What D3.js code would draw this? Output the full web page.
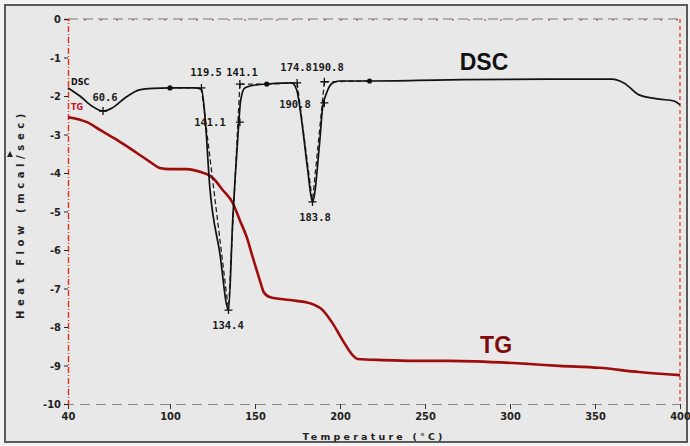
<!DOCTYPE html>
<html>
<head>
<meta charset="utf-8">
<script src="https://cdn.jsdelivr.net/npm/d3@7"></script>
<style>
  body { margin: 0; background: #f3f3f3; }
  svg { display: block; }
  .tick text { font-family: "Liberation Sans Narrow", "DejaVu Sans Condensed", sans-serif; font-weight: bold; font-size: 11px; fill: #222; }
  .peakLabel { font-family: "DejaVu Sans Mono", monospace; font-weight: bold; font-size: 10.5px; fill: #1a1a1a; }
</style>
</head>
<body>
<div id="chart"></div>
<script>
// DSC / TG thermogram (temperature in °C, heat flow in mcal/sec)
const dscCurve = [
  [40, -1.79], [47, -2.0], [54, -2.26], [60.6, -2.39], [66, -2.31], [73.5, -2.05], [82, -1.84],
  [90, -1.80], [100, -1.79], [114.6, -1.79], [118.5, -1.83], [120.4, -2.44], [123.4, -4.36],
  [129.3, -6.08], [134.4, -7.56], [136.9, -5.22], [139.8, -3.14], [141.6, -2.10], [144, -1.79],
  [151, -1.71], [156.9, -1.69], [171.6, -1.66], [174.5, -1.84], [177.4, -2.62], [181, -3.92],
  [183.8, -4.75], [188, -3.22], [189.8, -2.29], [192.1, -1.92], [195.6, -1.66], [199.7, -1.61],
  [217.4, -1.61], [264, -1.58], [323, -1.56], [360, -1.56], [367, -1.66], [375.9, -1.97],
  [387.7, -2.08], [396.5, -2.13], [400, -2.23]
];

const tgCurve = [
  [40, -2.55], [51.2, -2.68], [58.8, -2.88], [68.8, -3.14], [80.5, -3.48], [88.2, -3.71],
  [94, -3.87], [99.9, -3.90], [109.9, -3.90], [117.5, -3.97], [125.2, -4.13], [131, -4.44],
  [136.9, -4.78], [141, -5.22], [145.1, -5.66], [148.6, -6.18], [152.8, -6.78], [155.1, -7.09],
  [158.6, -7.22], [170.4, -7.30], [182.1, -7.38], [189.8, -7.56], [195.6, -7.90], [201.5, -8.34],
  [207.4, -8.73], [210.3, -8.83], [225, -8.86], [245, -8.88], [264.3, -8.88], [311.3, -8.96],
  [328.9, -9.01], [352.4, -9.06], [375.9, -9.17], [400, -9.25]
];

// "+" marks the analyser put on the DSC trace
const crossMarks = [
  [60.6, -2.39], [118.5, -1.79], [141.1, -1.69], [141.1, -2.68], [134.4, -7.56],
  [174.8, -1.66], [190.8, -1.63], [190.8, -2.18], [183.8, -4.75]
];
// filled dots at the baseline points
const baseDots = [[100, -1.79], [156.9, -1.69], [217.4, -1.61]];

// dashed baselines and tangents
const dashedLines = [
  [[100, -1.79], [118.5, -1.79]],
  [[141.1, -1.69], [156.9, -1.69]],
  [[156.9, -1.69], [174.8, -1.66]],
  [[190.8, -1.63], [217.4, -1.61]],
  [[118.5, -1.79], [134.4, -7.56]],
  [[141.1, -1.69], [134.4, -7.56]],
  [[174.8, -1.66], [183.8, -4.75]],
  [[190.8, -1.63], [183.8, -4.75]]
];

// peak temperature labels, anchored at (T, heat flow)
const peakLabels = [
  ["60.6", 61.8, -2.03], ["119.5", 121.2, -1.38], ["141.1", 142.4, -1.38], ["141.1", 123.5, -2.68],
  ["174.8", 174.2, -1.25], ["190.8", 192.9, -1.25], ["190.8", 173.5, -2.21],
  ["134.4", 134.1, -7.95], ["183.8", 185.3, -5.14]
];

const xTickValues = [40, 100, 150, 200, 250, 300, 350, 400];
const yTickValues = [0, -1, -2, -3, -4, -5, -6, -7, -8, -9, -10];

const svg = d3.select("#chart").append("svg")
    .attr("width", 690)
    .attr("height", 446);

// scanned sheet
svg.append("rect")
    .attr("x", 5).attr("y", 5)
    .attr("width", 682).attr("height", 437)
    .attr("fill", "#e8e8e8")
    .attr("stroke", "#5a5a5a")
    .attr("stroke-width", 2);

const xScale = d3.scaleLinear().domain([40, 400]).range([68, 680]);
const yScale = d3.scaleLinear().domain([0, -10]).range([19, 404]);

// top and right frame of the plot
svg.append("line")
    .attr("x1", 68).attr("x2", 680).attr("y1", yScale(0)).attr("y2", yScale(0))
    .attr("stroke", "#777").attr("stroke-width", 1.2).attr("stroke-dasharray", "10,5");
svg.append("line")
    .attr("x1", 68).attr("x2", 680).attr("y1", yScale(0) + 1).attr("y2", yScale(0) + 1)
    .attr("stroke", "#e0301e").attr("stroke-width", 1.2).attr("stroke-dasharray", "2,14");
svg.append("line")
    .attr("x1", 680).attr("x2", 680).attr("y1", 19).attr("y2", 404)
    .attr("stroke", "#e0301e").attr("stroke-width", 1.2).attr("stroke-dasharray", "4,3");

// x axis
const xAxisG = svg.append("g")
    .attr("transform", "translate(0, 404)")
    .call(d3.axisBottom(xScale).tickValues(xTickValues).tickSize(5).tickPadding(3));
xAxisG.select(".domain")
    .attr("stroke", "#888").attr("stroke-width", 1.2).attr("stroke-dasharray", "10,6");
xAxisG.selectAll(".tick line").attr("stroke", "#333");

// y axis
const yAxisG = svg.append("g")
    .attr("transform", "translate(68, 0)")
    .call(d3.axisLeft(yScale).tickValues(yTickValues).tickSize(4).tickPadding(3)
        .tickFormat(d => String(d)));
yAxisG.select(".domain")
    .attr("stroke", "#e0301e").attr("stroke-width", 1.4).attr("stroke-dasharray", "6,2,1,2");
yAxisG.selectAll(".tick line").attr("stroke", "#222");

// axis titles
svg.append("text")
    .attr("x", 374).attr("y", 440)
    .attr("text-anchor", "middle")
    .attr("font-family", "DejaVu Sans, sans-serif")
    .attr("font-size", 9.5)
    .attr("font-weight", "bold")
    .attr("letter-spacing", 3.2)
    .attr("fill", "#222")
    .text("Temperature (°C)");

svg.append("text")
    .attr("transform", "translate(24, 214) rotate(-90)")
    .attr("text-anchor", "middle")
    .attr("font-family", "DejaVu Sans, sans-serif")
    .attr("font-size", 10)
    .attr("font-weight", "bold")
    .attr("letter-spacing", 4.6)
    .attr("fill", "#222")
    .text("Heat Flow (mcal/sec)");
// little endotherm arrow beside the unit
svg.append("path")
    .attr("d", "M10,151 L7,157 L13,157 Z")
    .attr("fill", "#222");

const line = d3.line()
    .x(d => xScale(d[0]))
    .y(d => yScale(d[1]))
    .curve(d3.curveMonotoneX);

// TG trace
svg.append("path")
    .datum(tgCurve)
    .attr("fill", "none")
    .attr("stroke", "#9e0c0c")
    .attr("stroke-width", 2.6)
    .attr("stroke-linejoin", "round")
    .attr("d", line);

// dashed construction lines
svg.selectAll(".dashLine")
    .data(dashedLines)
    .enter().append("path")
    .attr("class", "dashLine")
    .attr("fill", "none")
    .attr("stroke", "#222")
    .attr("stroke-width", 1.3)
    .attr("stroke-dasharray", "5,3")
    .attr("d", d3.line().x(d => xScale(d[0])).y(d => yScale(d[1])));

// DSC trace
svg.append("path")
    .datum(dscCurve)
    .attr("fill", "none")
    .attr("stroke", "#111")
    .attr("stroke-width", 1.7)
    .attr("stroke-linejoin", "round")
    .attr("d", line);

svg.selectAll(".cross")
    .data(crossMarks)
    .enter().append("path")
    .attr("class", "cross")
    .attr("transform", d => "translate(" + xScale(d[0]) + "," + yScale(d[1]) + ")")
    .attr("d", "M-4,0 H4 M0,-4 V4")
    .attr("stroke", "#111")
    .attr("stroke-width", 1.3);

svg.selectAll(".baseDot")
    .data(baseDots)
    .enter().append("circle")
    .attr("class", "baseDot")
    .attr("cx", d => xScale(d[0]))
    .attr("cy", d => yScale(d[1]))
    .attr("r", 2.6)
    .attr("fill", "#111");

svg.selectAll(".peakLabel")
    .data(peakLabels)
    .enter().append("text")
    .attr("class", "peakLabel")
    .attr("x", d => xScale(d[1]))
    .attr("y", d => yScale(d[2]))
    .attr("text-anchor", "middle")
    .attr("dominant-baseline", "central")
    .text(d => d[0]);

// small trace names at the start of the curves
svg.append("text")
    .attr("x", xScale(40) + 3).attr("y", yScale(-1.64))
    .attr("dominant-baseline", "central")
    .attr("font-family", "DejaVu Sans, sans-serif")
    .attr("font-size", 8).attr("font-weight", "bold")
    .attr("fill", "#111")
    .text("DSC");
svg.append("text")
    .attr("x", xScale(40) + 3).attr("y", yScale(-2.31))
    .attr("dominant-baseline", "central")
    .attr("font-family", "DejaVu Sans, sans-serif")
    .attr("font-size", 8).attr("font-weight", "bold")
    .attr("fill", "#c0141a")
    .text("TG");

// large series captions
svg.append("text")
    .attr("x", xScale(284.7)).attr("y", yScale(-1.12))
    .attr("text-anchor", "middle")
    .attr("dominant-baseline", "central")
    .attr("font-family", "Liberation Sans, Arial, sans-serif")
    .attr("font-size", 23).attr("font-weight", "bold")
    .attr("fill", "#111")
    .text("DSC");
svg.append("text")
    .attr("x", xScale(291.8)).attr("y", yScale(-8.47))
    .attr("text-anchor", "middle")
    .attr("dominant-baseline", "central")
    .attr("font-family", "Liberation Sans, Arial, sans-serif")
    .attr("font-size", 23).attr("font-weight", "bold")
    .attr("fill", "#7d0b0b")
    .text("TG");
</script>
</body>
</html>
